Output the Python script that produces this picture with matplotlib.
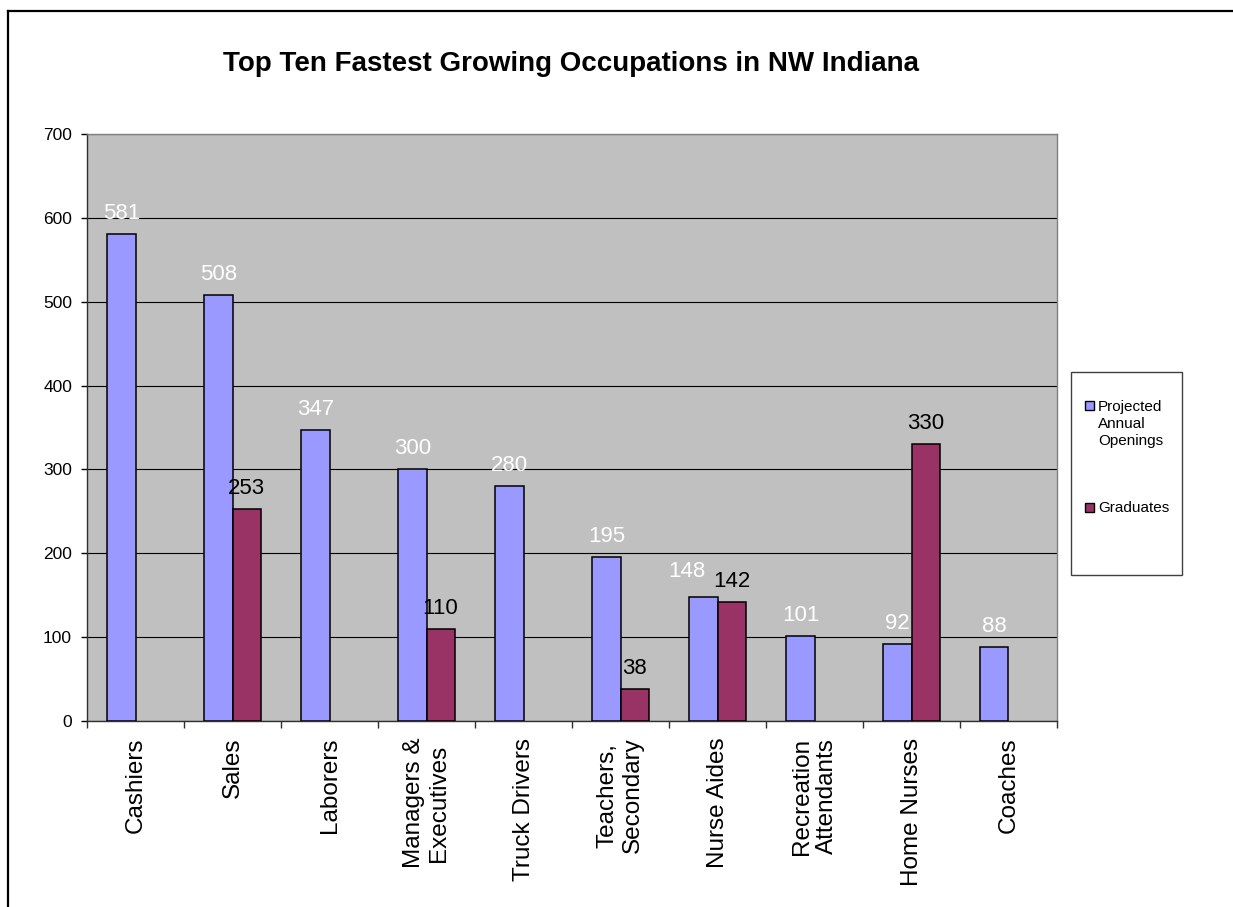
import matplotlib
matplotlib.use("Agg")
import matplotlib.pyplot as plt
import numpy as np
from matplotlib.patches import Rectangle
from matplotlib.lines import Line2D

categories = ["Cashiers", "Sales", "Laborers", "Managers &\nExecutives", "Truck Drivers",
              "Teachers,\nSecondary", "Nurse Aides", "Recreation\nAttendants", "Home Nurses", "Coaches"]
projected = [581, 508, 347, 300, 280, 195, 148, 101, 92, 88]
graduates = [None, 253, None, 110, None, 38, 142, None, 330, None]
yticks = [0, 100, 200, 300, 400, 500, 600, 700]
title = "Top Ten Fastest Growing Occupations in NW Indiana"
series_names = ["Projected\nAnnual\nOpenings", "Graduates"]

plt.rcParams['font.family'] = ['Liberation Sans', 'DejaVu Sans']

W, H = 1233, 907
fig = plt.figure(figsize=(W / 100, H / 100), dpi=100)
fig.patch.set_facecolor('white')

def fx(px):
    return px / W

def fy(py):
    return 1 - py / H

ax = fig.add_axes([fx(87), fy(721), fx(1057) - fx(87), fy(134) - fy(721)])
ax.set_facecolor('#C0C0C0')

blue = '#9999FF'
maroon = '#993366'
w = 0.289
x = np.arange(len(categories))

ax.bar(x - w / 2, projected, width=w, color=blue, edgecolor='black', linewidth=1.1, zorder=3)
gx = [xi for xi, g in zip(x, graduates) if g is not None]
gv = [g for g in graduates if g is not None]
ax.bar(np.array(gx) + w / 2, gv, width=w, color=maroon, edgecolor='black', linewidth=1.1, zorder=3)

for xi, v, g in zip(x, projected, graduates):
    # Excel nudges a label left/up when it would collide with the neighbouring label
    dx, dy = (0, 10.8)
    if g is not None and abs(g - v) < 20:
        dx, dy = (-12, 14.4)
    ax.annotate(str(v), (xi - w / 2, v), xytext=(dx, dy), textcoords='offset points',
                ha='center', va='baseline', color='white', fontsize=16, zorder=4)
for xi, v in zip(gx, gv):
    ax.annotate(str(v), (xi + w / 2, v), xytext=(0, 10.8), textcoords='offset points',
                ha='center', va='baseline', color='black', fontsize=16, zorder=4)

ax.set_xlim(-0.5, len(categories) - 0.5)
ax.set_ylim(0, 700)
ax.set_yticks(yticks)
ax.set_yticklabels([str(t) for t in yticks], fontsize=12.5)
ax.tick_params(axis='y', direction='out', length=4.3, width=1, pad=6.5, colors='black')

ax.set_xticks(np.arange(-0.5, len(categories), 1.0))
ax.set_xticklabels([])
ax.tick_params(axis='x', which='major', direction='out', length=5, width=1, color='#303030')
ax.set_xticks(x, minor=True)
ax.set_xticklabels(categories, minor=True, rotation=90, fontsize=17.5, ha='center', va='top',
                   multialignment='center')
ax.tick_params(axis='x', which='minor', length=0, pad=12)

ax.yaxis.grid(True, color='black', linewidth=0.8)
ax.set_axisbelow(True)

for s in ['top', 'right']:
    ax.spines[s].set_color('#808080')
    ax.spines[s].set_linewidth(1)
for s in ['left', 'bottom']:
    ax.spines[s].set_color('#303030')
    ax.spines[s].set_linewidth(1)

fig.text(fx(571), fy(71), title, ha='center', va='baseline', fontsize=20, fontweight='bold')

# legend drawn manually
fig.patches.append(Rectangle((fx(1071), fy(575)), fx(1182) - fx(1071), fy(372) - fy(575),
                             transform=fig.transFigure, facecolor='white', edgecolor='#404040',
                             linewidth=1))
fig.patches.append(Rectangle((fx(1085), fy(410)), fx(9), fy(401) - fy(410),
                             transform=fig.transFigure, facecolor=blue, edgecolor='black', linewidth=1))
fig.patches.append(Rectangle((fx(1085), fy(512)), fx(9), fy(503) - fy(512),
                             transform=fig.transFigure, facecolor=maroon, edgecolor='black', linewidth=1))
for i, line in enumerate(series_names[0].split('\n')):
    fig.text(fx(1098), fy(410.5 + 17.5 * i), line, ha='left', va='baseline', fontsize=11)
fig.text(fx(1098), fy(511.5), series_names[1], ha='left', va='baseline', fontsize=11)

# outer chart border (left and top visible)
fig.add_artist(Line2D([fx(8), fx(8)], [0, fy(11)], transform=fig.transFigure, color='black', linewidth=1.6))
fig.add_artist(Line2D([fx(8), 1], [fy(11), fy(11)], transform=fig.transFigure, color='black', linewidth=1.6))

fig.savefig('out.png', dpi=100)
